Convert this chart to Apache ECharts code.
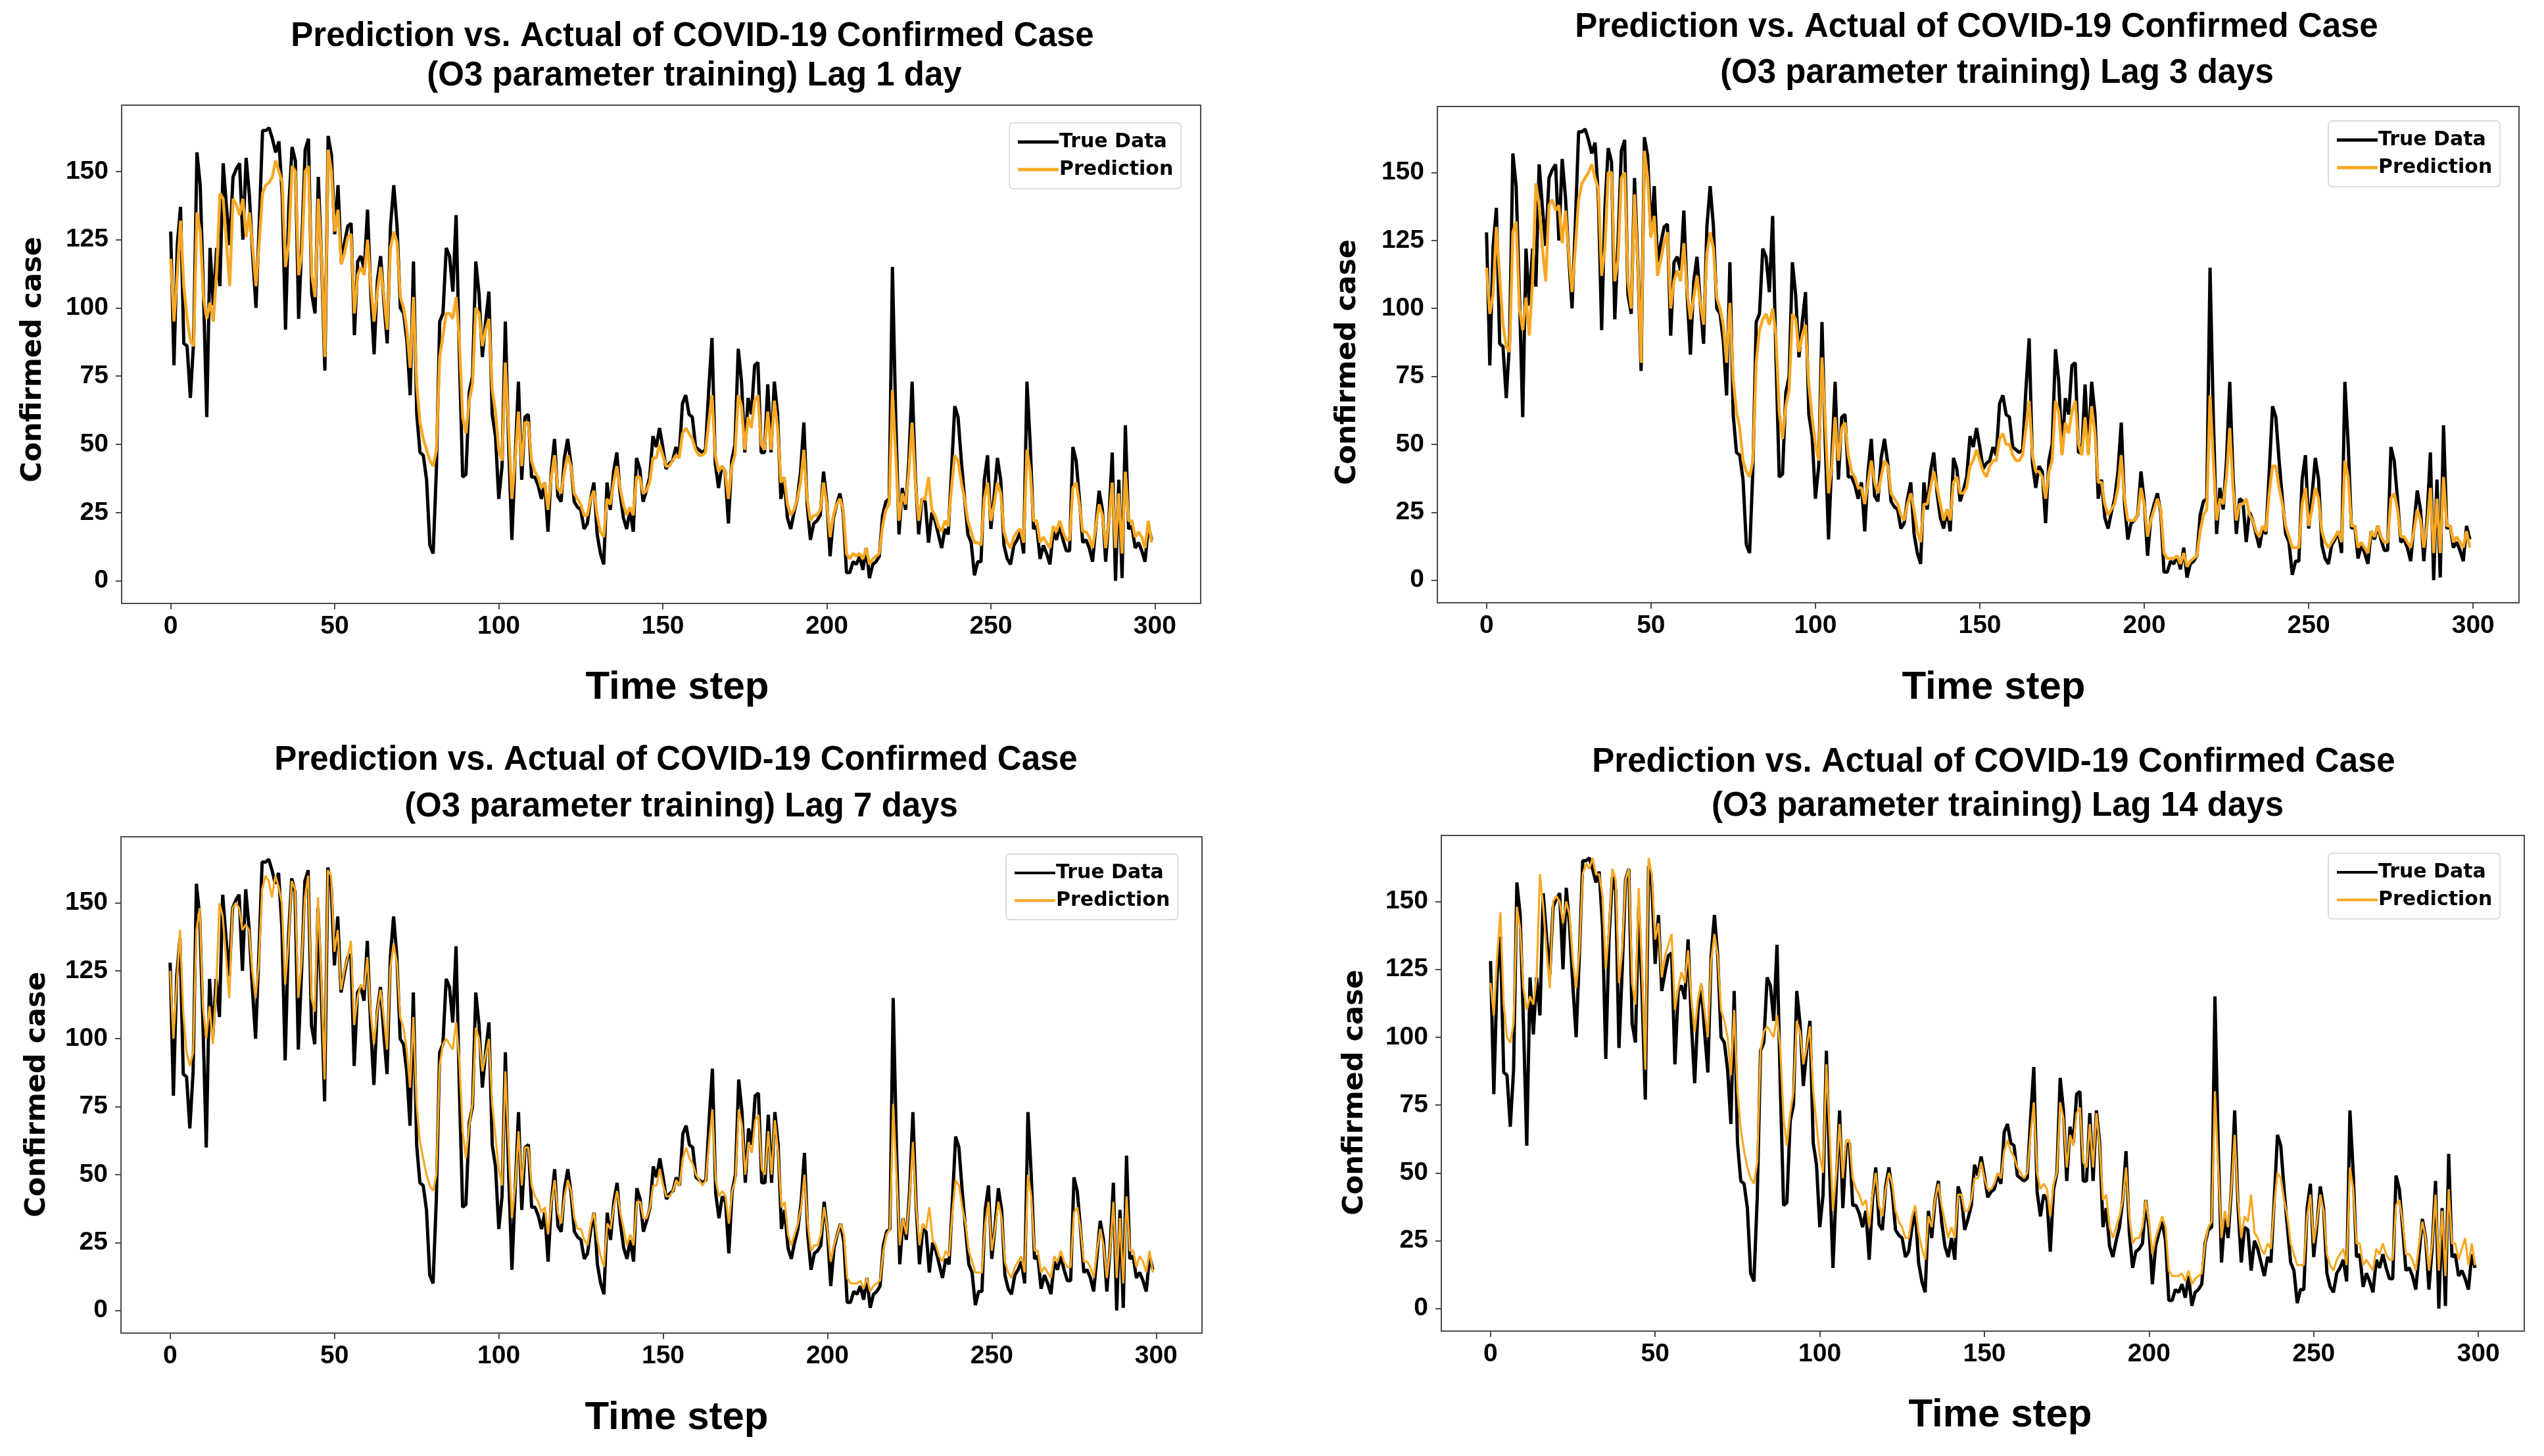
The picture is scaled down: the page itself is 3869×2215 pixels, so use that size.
<!DOCTYPE html>
<html>
<head>
<meta charset="utf-8">
<script src="https://cdn.jsdelivr.net/npm/echarts@6/dist/echarts.min.js"></script>
<style>
html,body{margin:0;padding:0;background:#fff;}
#chart{width:3869px;height:2215px;}
</style>
</head>
<body>
<div id="chart"></div>
<script>
// ---------------- data ----------------
const timeSteps = Array.from({length: 300}, (_, i) => i);
const xTickLabels = [0, 50, 100, 150, 200, 250, 300];
const yTickLabels = [0, 25, 50, 75, 100, 125, 150];
const panelTitles = [
  ['Prediction vs. Actual of COVID-19 Confirmed Case', '(O3 parameter training) Lag 1 day'],
  ['Prediction vs. Actual of COVID-19 Confirmed Case', '(O3 parameter training) Lag 3 days'],
  ['Prediction vs. Actual of COVID-19 Confirmed Case', '(O3 parameter training) Lag 7 days'],
  ['Prediction vs. Actual of COVID-19 Confirmed Case', '(O3 parameter training) Lag 14 days']
];
const legendNames = ['True Data', 'Prediction'];
const xAxisName = 'Time step';
const yAxisName = 'Confirmed case';

const trueData = [
128,79,123,137,87,86,67,88,157,145,
105,60,122,101,122,108,153,137,123,148,
151,153,125,155,141,119,100,131,165,165,
166,162,157,161,141,92,137,159,154,96,
125,158,162,105,98,148,117,77,163,156,
127,145,117,124,130,131,90,117,119,114,
136,105,83,110,119,102,87,130,145,130,
100,98,88,68,117,61,47,46,37,13,
10,41,95,98,122,119,106,134,82,38,
39,69,75,117,105,82,95,106,61,53,
30,42,95,50,15,45,73,37,60,61,
38,38,35,30,36,18,40,52,31,29,
45,52,43,29,27,26,19,21,30,36,
17,10,6,36,26,40,47,32,23,19,
26,18,45,41,29,33,38,53,49,56,
49,41,43,44,49,46,65,68,61,60,
49,48,47,48,70,89,43,34,42,40,
21,44,50,85,73,47,67,61,79,80,
47,47,72,47,73,61,30,37,23,19,
25,30,40,58,28,15,21,22,24,40,
29,9,23,28,32,25,3,3,7,6,
9,4,12,1,6,7,9,24,29,30,
115,60,17,34,26,44,73,38,17,30,
29,14,25,22,17,12,19,17,40,64,
60,44,30,17,14,2,7,7,37,46,
19,31,45,37,13,8,6,13,15,18,
10,73,50,19,20,8,13,10,6,18,
15,20,15,11,11,49,44,30,14,15,
12,7,20,33,26,7,23,47,0,37,
1,57,19,20,12,14,11,7,20,15
];

const predLag1 = [
118,95,112,132,108,96,88,86,135,128,
104,96,102,95,113,142,140,124,108,140,
138,134,140,126,135,122,108,124,142,145,
146,148,154,150,146,115,124,152,150,112,
120,150,152,112,104,140,118,82,158,150,
128,136,116,120,126,127,98,112,115,112,
125,108,95,106,115,104,92,122,128,124,
104,100,92,78,104,72,58,52,48,44,
42,48,82,90,98,98,96,104,88,60,
54,66,72,100,98,86,92,96,70,62,
48,44,80,56,30,44,62,42,58,58,
44,40,38,34,36,26,38,46,34,32,
40,46,42,32,30,28,24,24,30,33,
24,18,16,30,28,36,42,34,28,24,
27,24,38,38,32,33,36,45,45,50,
46,42,42,44,46,45,54,56,54,52,
48,46,46,47,58,68,46,40,42,40,
30,42,46,68,64,48,60,56,66,68,
50,48,62,48,66,56,36,38,28,24,
26,30,36,48,30,22,24,24,26,36,
28,16,24,28,30,26,10,8,10,9,
10,8,12,6,8,9,10,20,26,28,
70,46,22,32,28,40,58,36,22,30,
30,38,26,24,20,18,22,20,34,46,
44,36,30,22,18,14,14,13,30,36,
22,28,36,32,18,14,12,16,18,19,
14,48,40,22,22,14,16,14,12,20,
18,22,18,15,15,34,36,28,18,18,
16,12,20,28,24,12,22,36,12,32,
10,40,22,22,16,18,16,12,22,14
];

const predLag3 = [
115,98,105,130,112,94,86,84,128,132,
100,92,104,90,110,146,138,122,110,138,
140,136,138,124,136,120,106,122,140,146,
148,150,153,148,144,112,122,150,150,110,
118,148,150,110,100,142,116,80,158,148,
126,134,112,118,124,128,100,110,114,110,
124,106,96,104,112,102,94,120,128,122,
104,100,94,80,102,74,62,56,44,40,
38,44,80,92,96,98,94,100,90,62,
52,64,70,98,96,84,90,94,72,60,
50,44,82,58,32,42,60,44,56,58,
46,40,38,34,34,28,36,44,36,32,
38,44,42,32,30,28,24,22,28,32,
26,18,14,28,28,34,40,34,28,22,
26,22,36,38,32,32,34,42,44,48,
44,40,38,42,44,44,52,54,50,50,
46,44,44,46,56,66,46,40,40,38,
30,40,44,66,62,46,58,54,62,66,
50,46,60,46,64,54,36,36,28,24,
26,28,34,46,30,22,22,22,24,34,
28,16,22,26,30,26,10,8,8,8,
9,6,10,5,7,8,9,18,24,26,
68,44,22,30,28,38,56,34,22,28,
28,30,24,22,18,16,20,18,32,42,
42,34,28,20,16,12,12,12,28,34,
20,26,34,30,18,14,12,14,16,18,
14,44,38,20,20,12,14,12,10,18,
16,20,16,14,14,30,32,26,16,16,
14,12,18,26,22,12,20,34,10,30,
10,38,20,20,14,16,14,12,18,12
];

const predLag7 = [
125,100,120,140,110,95,90,95,140,148,
112,100,112,98,118,150,145,130,115,148,
150,148,140,142,140,125,115,128,155,160,
158,152,160,156,150,120,135,158,155,115,
128,152,160,115,110,152,122,85,162,160,
132,140,118,125,130,136,105,115,120,118,
130,110,98,110,118,108,96,126,135,128,
108,104,96,82,108,76,62,56,50,46,
44,50,90,98,100,98,96,106,92,66,
56,68,76,104,100,88,94,100,76,64,
52,46,88,60,34,46,66,46,60,60,
46,42,40,36,38,28,40,48,36,32,
42,48,44,34,30,30,26,24,32,36,
26,20,16,32,30,38,44,36,30,24,
28,24,40,40,34,34,38,46,46,52,
46,42,42,44,48,46,56,60,56,54,
50,48,46,48,62,74,48,42,44,42,
32,44,48,74,68,50,62,58,70,72,
52,50,66,50,70,58,38,40,28,24,
28,32,38,50,32,22,24,24,28,38,
30,18,24,28,32,28,12,10,10,10,
11,8,12,7,9,10,11,22,28,30,
76,50,24,34,28,42,62,38,24,32,
30,38,26,24,20,18,22,20,36,48,
46,38,32,22,18,14,14,14,32,40,
22,30,40,34,18,14,12,16,18,20,
14,50,42,22,22,14,16,14,12,20,
18,22,18,16,16,36,38,30,18,18,
16,12,22,30,24,12,22,40,12,34,
10,42,22,22,16,20,18,14,22,14
];

const predLag14 = [
120,108,130,146,112,100,98,105,148,140,
118,110,115,112,122,160,148,132,118,150,
152,150,142,150,145,128,118,132,160,164,
162,166,160,160,152,125,140,162,158,120,
132,158,162,120,112,155,125,88,166,160,
136,142,122,130,134,138,110,118,124,120,
132,114,102,114,120,110,100,128,138,130,
110,106,100,86,110,80,66,58,52,48,
46,54,95,102,104,102,100,108,96,70,
60,72,80,106,102,90,96,104,80,68,
56,50,90,64,36,50,68,48,62,62,
48,44,42,38,40,30,42,50,38,34,
44,50,46,36,32,30,26,26,34,38,
28,22,18,34,30,40,46,38,32,26,
30,26,42,42,36,36,40,48,48,54,
48,44,44,46,50,48,58,62,58,56,
52,50,48,50,64,76,50,44,46,44,
34,46,50,76,70,52,64,60,72,74,
54,52,68,52,72,60,40,42,30,26,
30,34,40,52,34,24,26,26,30,40,
32,20,26,30,34,30,14,12,12,12,
13,10,14,9,11,12,13,24,30,32,
80,52,26,36,30,44,64,40,26,34,
32,42,28,26,22,20,24,22,38,50,
48,40,34,24,20,16,16,16,34,42,
24,32,42,36,20,16,14,18,20,22,
16,52,44,24,24,16,18,16,14,22,
20,24,20,18,18,38,40,32,20,20,
18,14,24,32,26,14,24,42,14,36,
12,44,24,24,18,22,26,16,24,16
];

const predictions = [predLag1, predLag3, predLag7, predLag14];

// ---------------- layout ----------------
const grids = [
  {left: 185, top: 160, width: 1641, height: 758},
  {left: 2186, top: 162, width: 1645, height: 755},
  {left: 184, top: 1273, width: 1644, height: 755},
  {left: 2192, top: 1271, width: 1647, height: 754}
];
const titlePos = [
  [[1053, 56], [1056, 116]],
  [[3006, 42], [3037, 112]],
  [[1028, 1157], [1036, 1228]],
  [[3032, 1160], [3038, 1227]]
];
const xNamePos = [[1030, 1046], [3032, 1046], [1029, 2157], [3042, 2153]];
const yNamePos = [[51, 547], [2050, 551], [57, 1665], [2061, 1662]];
const legendPos = [[1535, 187], [3541, 184], [1530, 1299], [3541, 1298]];
const predWidth = [4.5, 4.5, 3.2, 3.2];
const legendLineH = [5, 5, 4, 4];

const BLACK = '#000000';
const ORANGE = '#F7A823';
const AXIS = '#4a4a4a';

const option = {
  backgroundColor: '#ffffff',
  animation: false,
  grid: [], xAxis: [], yAxis: [], series: [], legend: [], graphic: []
};

grids.forEach((g, i) => {
  option.grid.push(Object.assign({show: true, borderColor: AXIS, borderWidth: 2,
    backgroundColor: '#fff', containLabel: false, outerBoundsMode: 'none'}, g));
  option.xAxis.push({
    type: 'value', gridIndex: i, min: -14.95, max: 313.95,
    splitLine: {show: false},
    axisLine: {show: true, onZero: false, lineStyle: {color: AXIS, width: 2}},
    axisTick: {show: true, customValues: xTickLabels, length: 9, lineStyle: {color: AXIS, width: 2}},
    axisLabel: {customValues: xTickLabels, margin: 16, color: '#000',
      fontFamily: 'Liberation Sans', fontWeight: 'bold', fontSize: 39}
  });
  option.yAxis.push({
    type: 'value', gridIndex: i, min: -8.3, max: 174.3,
    splitLine: {show: false},
    axisLine: {show: true, onZero: false, lineStyle: {color: AXIS, width: 2}},
    axisTick: {show: true, customValues: yTickLabels, length: 9, lineStyle: {color: AXIS, width: 2}},
    axisLabel: {customValues: yTickLabels, margin: 20, color: '#000',
      fontFamily: 'Liberation Sans', fontWeight: 'bold', fontSize: 39}
  });
  option.series.push({
    type: 'line', name: legendNames[0], xAxisIndex: i, yAxisIndex: i,
    data: timeSteps.map(t => [t, trueData[t]]),
    symbol: 'none', lineStyle: {color: BLACK, width: 5}, itemStyle: {color: BLACK}, z: 2
  });
  option.series.push({
    type: 'line', name: legendNames[1], xAxisIndex: i, yAxisIndex: i,
    data: timeSteps.map(t => [t, predictions[i][t]]),
    symbol: 'none', lineStyle: {color: ORANGE, width: predWidth[i]}, itemStyle: {color: ORANGE}, z: 3
  });
  option.legend.push({
    left: legendPos[i][0], top: legendPos[i][1], orient: 'vertical',
    padding: [12, 12, 12, 13], itemGap: 8, itemWidth: 62, itemHeight: legendLineH[i],
    icon: 'rect',
    backgroundColor: 'rgba(255,255,255,0.9)', borderColor: '#dcdcdc', borderWidth: 2, borderRadius: 6,
    selectedMode: false,
    textStyle: {fontFamily: 'DejaVu Sans', fontWeight: 'bold', fontSize: 30, color: '#000', lineHeight: 34, padding: [0, 0, 0, -4]},
    data: [
      {name: legendNames[0], itemStyle: {color: BLACK}},
      {name: legendNames[1], itemStyle: {color: ORANGE}}
    ]
  });
  panelTitles[i].forEach((line, k) => {
    option.graphic.push({
      type: 'text', x: titlePos[i][k][0], y: titlePos[i][k][1],
      style: {text: line, font: 'bold 51px "Liberation Sans", Arial, sans-serif', fill: '#000',
        textAlign: 'center', textVerticalAlign: 'middle'}
    });
  });
  option.graphic.push({
    type: 'text', x: xNamePos[i][0], y: xNamePos[i][1],
    style: {text: xAxisName, font: 'bold 60px "Liberation Sans", Arial, sans-serif', fill: '#000',
      textAlign: 'center', textVerticalAlign: 'middle'}
  });
  option.graphic.push({
    type: 'text', x: yNamePos[i][0], y: yNamePos[i][1], rotation: Math.PI / 2,
    style: {text: yAxisName, font: 'bold 43px "DejaVu Sans", sans-serif', fill: '#000',
      textAlign: 'center', textVerticalAlign: 'middle'}
  });
});

const chart = echarts.init(document.getElementById('chart'), null, {renderer: 'canvas', devicePixelRatio: 1});
chart.setOption(option);
</script>
</body>
</html>
